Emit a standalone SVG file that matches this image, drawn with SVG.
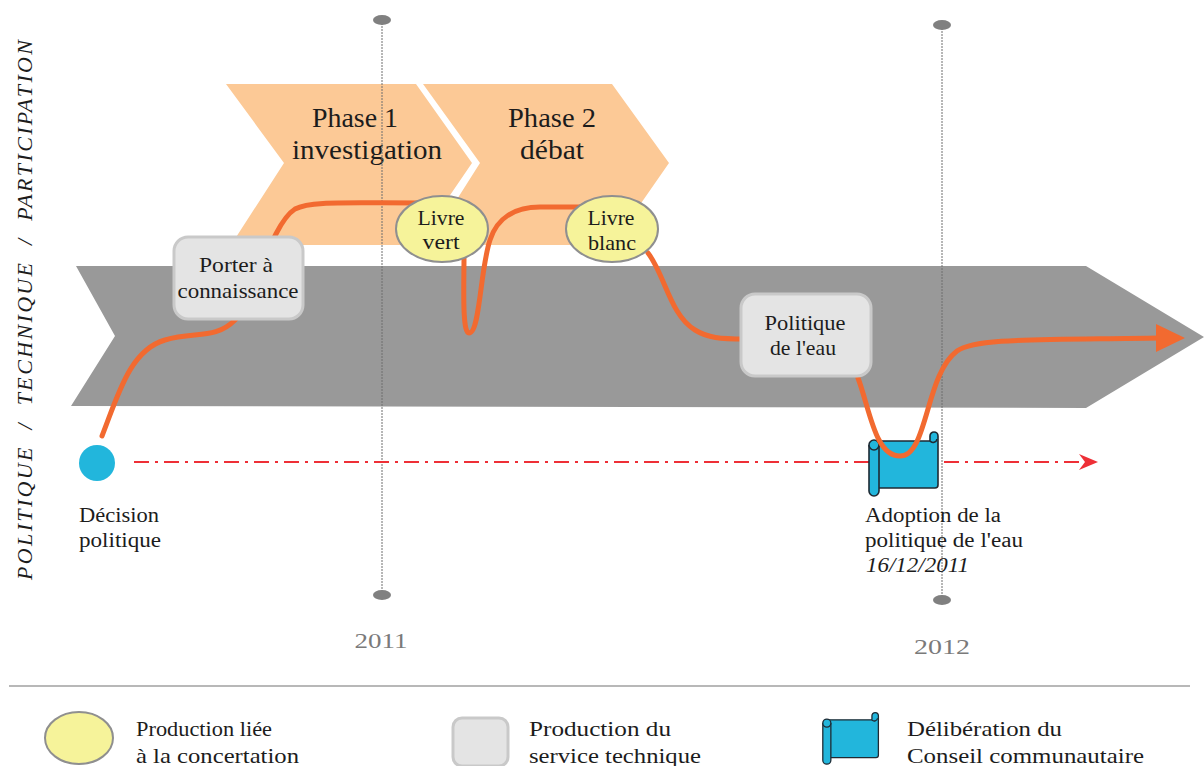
<svg xmlns="http://www.w3.org/2000/svg" width="1204" height="766" viewBox="0 0 1204 766">
<style>
text{font-family:"Liberation Serif","DejaVu Serif",serif;fill:#1c1c1c;font-size:20px}
.m{text-anchor:middle}
.ph{font-size:27px}
.nd{font-size:21px}
.lg{font-size:22px}
.yr{font-size:22px;fill:#7a7a7a}
.vl{stroke:#6e6e6e;stroke-width:1;stroke-dasharray:2 1;fill:none}
.dot{fill:#808080}
.box{fill:#e4e4e4;stroke:#c9c9c9;stroke-width:3}
.ell{fill:#f6f39a;stroke:#8f8f8f;stroke-width:2}
.cur{fill:none;stroke:#f26a30;stroke-width:5;stroke-linecap:round}
.chev{fill:#fcc996}
.sc{fill:#22b6dc;stroke:#1f2a33;stroke-width:1.6;stroke-linejoin:round}
</style>
<defs>
<symbol id="scroll" viewBox="0 0 72 66" overflow="visible">
<path class="sc" d="M8 8H62V3a4 4 0 0 1 8 0V52a3 3 0 0 1-3 3H10Z"/>
<path class="sc" d="M62 8a4 4 0 0 0 7-2" fill="none"/>
<path class="sc" d="M1 12a5 5 0 0 1 10 0V58a5 5 0 0 1-10 0Z"/>
<path class="sc" d="M1 12a5 5 0 0 0 10 0" fill="none"/>
</symbol>
</defs>
<g id="banner"><polygon points="76,266 1086,266 1204,337 1086,408 71,406 115,336" fill="#999999"/></g>
<g id="phase1"><polygon class="chev" points="226,84 416,84 472,163 416,245 231,245 284,163"/></g>
<g id="phase2"><polygon class="chev" points="423,84 612,84 669,163 612,245 428,245 480,163"/></g>
<g id="phase1-label"><text class="ph m" x="355" y="127" textLength="86" lengthAdjust="spacingAndGlyphs">Phase 1</text><text class="ph m" x="367" y="159" textLength="150" lengthAdjust="spacingAndGlyphs">investigation</text></g>
<g id="phase2-label"><text class="ph m" x="552" y="127" textLength="88" lengthAdjust="spacingAndGlyphs">Phase 2</text><text class="ph m" x="552" y="159" textLength="64" lengthAdjust="spacingAndGlyphs">débat</text></g>
<g id="year-2011"><line class="vl" x1="382" y1="20" x2="382" y2="595"/><ellipse class="dot" cx="382" cy="20" rx="9" ry="5"/><ellipse class="dot" cx="382" cy="595" rx="9" ry="5"/><text class="yr m" x="381" y="648" textLength="53" lengthAdjust="spacingAndGlyphs">2011</text></g>
<g id="year-2012"><line class="vl" x1="942" y1="25" x2="942" y2="600"/><ellipse class="dot" cx="942" cy="25" rx="9" ry="5"/><ellipse class="dot" cx="942" cy="600" rx="9" ry="5"/><text class="yr m" x="942" y="654" textLength="56" lengthAdjust="spacingAndGlyphs">2012</text></g>
<g id="timeline-axis"><line x1="134" y1="462" x2="1086" y2="462" stroke="#ee2f36" stroke-width="2" stroke-dasharray="15 6 3 6"/><path d="M1079 454L1098 462L1079 470L1085 462Z" fill="#ee2f36"/></g>
<g id="adoption"><use href="#scroll" x="868" y="433" width="72" height="66"/></g>
<g id="connectors">
<path class="cur" d="M102 436C118 395 130 350 165 340C195 331 215 340 235 320C255 300 270 225 295 209C310 201 340 203 420 203"/>
<path class="cur" d="M464 258C464 285 462 333 469 333C480 333 480 270 490 240C497 218 515 207 540 207H585"/>
<path class="cur" d="M648 253C665 275 670 315 695 330C708 338 720 339 745 339"/>
<path class="cur" d="M858 378C870 410 875 456 900 456C928 456 925 375 957 351C975 338 1030 340 1160 338"/>
<polygon points="1156,324 1185,338 1156,352" fill="#f26a30"/>
</g>
<g id="decision"><circle cx="97" cy="463" r="18" fill="#22b6dc"/><text x="79" y="522" textLength="80" lengthAdjust="spacingAndGlyphs">Décision</text><text x="79" y="547" textLength="82" lengthAdjust="spacingAndGlyphs">politique</text></g>
<g id="adoption-label"><text x="865" y="522" textLength="136" lengthAdjust="spacingAndGlyphs">Adoption de la</text><text x="865" y="547" textLength="158" lengthAdjust="spacingAndGlyphs">politique de l'eau</text><text x="866" y="572" font-style="italic" textLength="103" lengthAdjust="spacingAndGlyphs">16/12/2011</text></g>
<g id="porter"><rect class="box" x="174" y="237" width="129" height="82" rx="14"/><text class="nd m" x="236" y="272" textLength="74" lengthAdjust="spacingAndGlyphs">Porter à</text><text class="nd m" x="238" y="298" textLength="121" lengthAdjust="spacingAndGlyphs">connaissance</text></g>
<g id="livre-vert"><ellipse class="ell" cx="442" cy="229" rx="46" ry="33"/><text class="nd m" x="441" y="225" textLength="47" lengthAdjust="spacingAndGlyphs">Livre</text><text class="nd m" x="441" y="249" textLength="37" lengthAdjust="spacingAndGlyphs">vert</text></g>
<g id="livre-blanc"><ellipse class="ell" cx="612" cy="229" rx="46" ry="33"/><text class="nd m" x="611" y="225" textLength="47" lengthAdjust="spacingAndGlyphs">Livre</text><text class="nd m" x="612" y="250" textLength="48" lengthAdjust="spacingAndGlyphs">blanc</text></g>
<g id="politique"><rect class="box" x="741" y="294" width="130" height="82" rx="14"/><text class="nd m" x="805" y="330" textLength="81" lengthAdjust="spacingAndGlyphs">Politique</text><text class="nd m" x="803" y="355" textLength="66" lengthAdjust="spacingAndGlyphs">de l'eau</text></g>
<g id="axis-label"><text transform="translate(32 580) rotate(-90)" font-style="italic" textLength="540" lengthAdjust="spacing" style="font-size:22px" xml:space="preserve">POLITIQUE  /  TECHNIQUE  /  PARTICIPATION</text></g>
<line x1="9" y1="686" x2="1190" y2="686" stroke="#a0a0a0" stroke-width="1.6"/>
<g id="legend-concertation"><ellipse class="ell" cx="79" cy="738" rx="34" ry="26"/><text class="lg" x="136" y="736" textLength="136" lengthAdjust="spacingAndGlyphs">Production liée</text><text class="lg" x="136" y="763" textLength="163" lengthAdjust="spacingAndGlyphs">à la concertation</text></g>
<g id="legend-service"><rect class="box" x="453" y="718" width="55" height="48" rx="9"/><text class="lg" x="529" y="736" textLength="142" lengthAdjust="spacingAndGlyphs">Production du</text><text class="lg" x="529" y="763" textLength="172" lengthAdjust="spacingAndGlyphs">service technique</text></g>
<g id="legend-conseil"><use href="#scroll" x="822" y="713" width="58" height="54"/><text class="lg" x="907" y="736" textLength="155" lengthAdjust="spacingAndGlyphs">Délibération du</text><text class="lg" x="907" y="763" textLength="237" lengthAdjust="spacingAndGlyphs">Conseil communautaire</text></g>
</svg>
